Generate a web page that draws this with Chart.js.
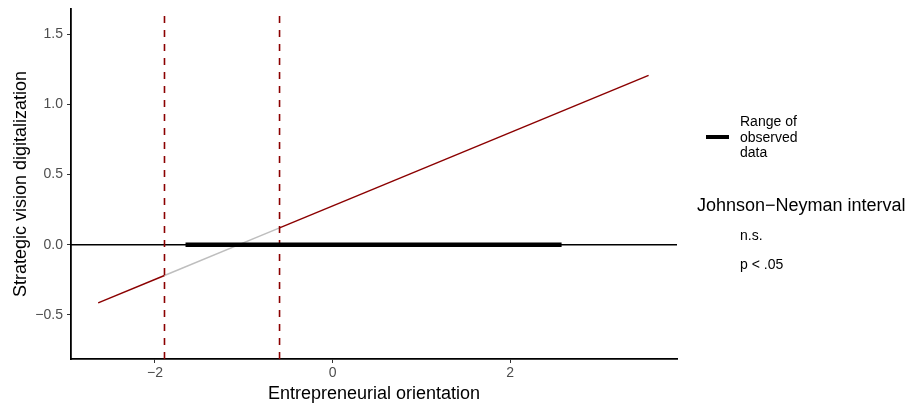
<!DOCTYPE html>
<html>
<head>
<meta charset="utf-8">
<script src="https://cdn.jsdelivr.net/npm/chart.js@4/dist/chart.umd.min.js"></script>
<style>
  body{margin:0;background:#fff;font-family:"Liberation Sans",Arial,sans-serif;}
  #wrap{position:relative;width:912px;height:405px;}
  .lg{position:absolute;color:#000;white-space:nowrap;}
</style>
</head>
<body>
<div id="wrap">
  <canvas id="c" width="912" height="405"></canvas>
  <div class="lg" style="left:706px;top:135px;width:23px;height:4px;background:#000;"></div>
  <div class="lg" style="left:740px;top:114px;font-size:14px;line-height:15.5px;">Range of<br>observed<br>data</div>
  <div class="lg" style="left:697px;top:195px;font-size:18px;">Johnson−Neyman interval</div>
  <div class="lg" style="left:740px;top:227px;font-size:14px;">n.s.</div>
  <div class="lg" style="left:740px;top:256px;font-size:14px;">p &lt; .05</div>
</div>
<script>
// axis limits and ticks
const xLim = [-2.946, 3.88];
const yLim = [-0.814, 1.68];
const xTicks = [-2, 0, 2];
const yTicks = [-0.5, 0, 0.5, 1.0, 1.5];

// conditional effect line, split at the J-N bounds
const sigLow  = [{x:-2.64,y:-0.414},{x:-1.893,y:-0.219}];
const nsPart  = [{x:-1.893,y:-0.219},{x:-0.597,y:0.120}];
const sigHigh = [{x:-0.597,y:0.120},{x:3.56,y:1.207}];

// Johnson-Neyman bounds
const jnBounds = [-1.893, -0.597];

// observed range of the moderator
const observed = [-1.656, 2.58];

const red = '#8B0000';
const minus = v => String(v).replace('-', '\u2212');

const ds = [];
ds.push({data:[{x:observed[0],y:0},{x:observed[1],y:0}],borderColor:'#000',borderWidth:4.5,order:0});
jnBounds.forEach(b=>{
  ds.push({data:[{x:b,y:yLim[0]},{x:b,y:yLim[1]}],borderColor:red,borderWidth:1.6,borderDash:[7,7],order:1});
});
ds.push({data:[{x:xLim[0],y:0},{x:xLim[1],y:0}],borderColor:'#000',borderWidth:1.6,order:2});
ds.push({data:sigLow,borderColor:red,borderWidth:1.5,order:3});
ds.push({data:nsPart,borderColor:'#BEBEBE',borderWidth:1.5,order:3});
ds.push({data:sigHigh,borderColor:red,borderWidth:1.5,order:3});
ds.forEach(d=>{ d.showLine=true; d.pointRadius=0; d.fill=false; d.borderCapStyle='butt'; });

Chart.defaults.font.family = '"Liberation Sans", Arial, sans-serif';

new Chart(document.getElementById('c'), {
  type:'scatter',
  data:{datasets:ds},
  options:{
    responsive:false, animation:false,
    layout:{padding:{top:9,right:235,left:0,bottom:0}},
    plugins:{legend:{display:false},tooltip:{enabled:false}},
    scales:{
      x:{
        type:'linear', min:xLim[0], max:xLim[1],
        afterBuildTicks:a=>{a.ticks=xTicks.map(v=>({value:v}));},
        afterFit:a=>{a.height=46; a.paddingLeft=0; a.paddingRight=0;},
        grid:{drawOnChartArea:false,drawTicks:true,tickLength:4,color:'#333',lineWidth:1},
        border:{display:true,color:'#000',width:1.8},
        ticks:{color:'#4D4D4D',font:{size:14},padding:2,maxRotation:0,callback:v=>minus(v)},
        title:{display:true,text:'Entrepreneurial orientation',color:'#000',font:{size:18},padding:{top:0,bottom:0}}
      },
      y:{
        type:'linear', min:yLim[0], max:yLim[1],
        afterBuildTicks:a=>{a.ticks=yTicks.map(v=>({value:v}));},
        afterFit:a=>{a.width=71; a.paddingTop=0; a.paddingBottom=0;},
        grid:{drawOnChartArea:false,drawTicks:true,tickLength:4,color:'#333',lineWidth:1},
        border:{display:true,color:'#000',width:1.8},
        ticks:{color:'#4D4D4D',font:{size:14},padding:4,callback:v=>minus(v.toFixed(1))},
        title:{display:true,text:'Strategic vision digitalization',color:'#000',font:{size:18},padding:{top:10,bottom:0}}
      }
    }
  }
});
</script>
</body>
</html>
